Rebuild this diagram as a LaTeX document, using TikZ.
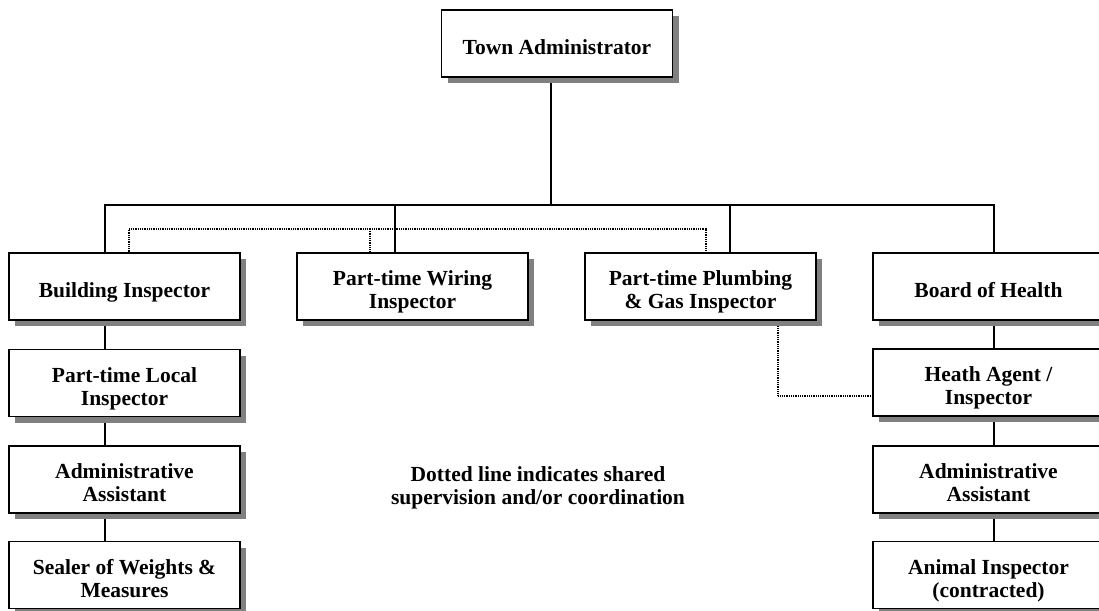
\documentclass[tikz,border=0pt]{standalone}
\usepackage{fontspec}
\setmainfont{Liberation Serif}
\usetikzlibrary{shadows,backgrounds}
\newcommand\bxt[1]{\raisebox{-6pt}[\height][\depth]{\begin{tabular}{@{}c@{}}#1\end{tabular}}}
\begin{document}
\begin{tikzpicture}[x=1pt,y=-1pt,
  box/.style={draw, line width=1.4pt, fill=white, minimum width=231pt, minimum height=67pt,
    font=\bfseries\fontsize{21.5}{23}\selectfont, inner sep=0pt,
    drop shadow={shadow xshift=6pt, shadow yshift=-6pt, fill=black!50, opacity=1}},
  conn/.style={line width=1.3pt},
  dotline/.style={line width=1.2pt, dash pattern=on 1pt off 0.8pt},
  notetext/.style={align=center, font=\bfseries\fontsize{21.5}{23}\selectfont}]
\useasboundingbox (0,0) rectangle (1099,610);
\clip (0,0) rectangle (1099,610);
\node[box] (TA) at (557,43.5) {\bxt{Town Administrator}};
\node[box] (BI) at (124.5,286.5) {\bxt{Building Inspector}};
\node[box] (WI) at (412.5,286.5) {\bxt{Part-time Wiring\\Inspector}};
\node[box] (PG) at (700.5,286.5) {\bxt{Part-time Plumbing\\\& Gas Inspector}};
\node[box] (BH) at (988.5,286.5) {\bxt{Board of Health}};
\node[box] (PL) at (124.5,383) {\bxt{Part-time Local\\Inspector}};
\node[box] (AL) at (124.5,479.5) {\bxt{Administrative\\Assistant}};
\node[box] (SW) at (124.5,575) {\bxt{Sealer of Weights \&\\Measures}};
\node[box] (HA) at (988.5,382.5) {\bxt{Heath Agent /\\Inspector}};
\node[box] (AR) at (988.5,479.5) {\bxt{Administrative\\Assistant}};
\node[box] (AN) at (988.5,575) {\bxt{Animal Inspector\\(contracted)}};
\node[notetext] (note) at (538,488) {Dotted line indicates shared\\supervision and/or coordination};
\begin{scope}[on background layer]
\coordinate (top) at (551,205);
\coordinate (tL) at (105,205);
\coordinate (tW) at (395,205);
\coordinate (tP) at (730,205);
\coordinate (tR) at (994,205);
\draw[conn] (TA.south -| top) -- (top);
\draw[conn] (BI.north -| tL) -- (tL) -- (tR) -- (BH.north -| tR);
\draw[conn] (tW) -- (WI.north -| tW);
\draw[conn] (tP) -- (PG.north -| tP);
\draw[conn] (BI.south -| tL) -- (PL.north -| tL);
\draw[conn] (PL.south -| tL) -- (AL.north -| tL);
\draw[conn] (AL.south -| tL) -- (SW.north -| tL);
\draw[conn] (BH.south -| tR) -- (HA.north -| tR);
\draw[conn] (HA.south -| tR) -- (AR.north -| tR);
\draw[conn] (AR.south -| tR) -- (AN.north -| tR);
\coordinate (d1) at (129,229);
\coordinate (d2) at (706,229);
\coordinate (dw) at (370,229);
\coordinate (d3) at (778,396);
\draw[dotline] (BI.north -| d1) -- (d1) -- (d2) -- (PG.north -| d2);
\draw[dotline] (dw) -- (WI.north -| dw);
\draw[dotline] (PG.south -| d3) -- (d3) -- (HA.west |- d3);
\end{scope}
\end{tikzpicture}
\end{document}
